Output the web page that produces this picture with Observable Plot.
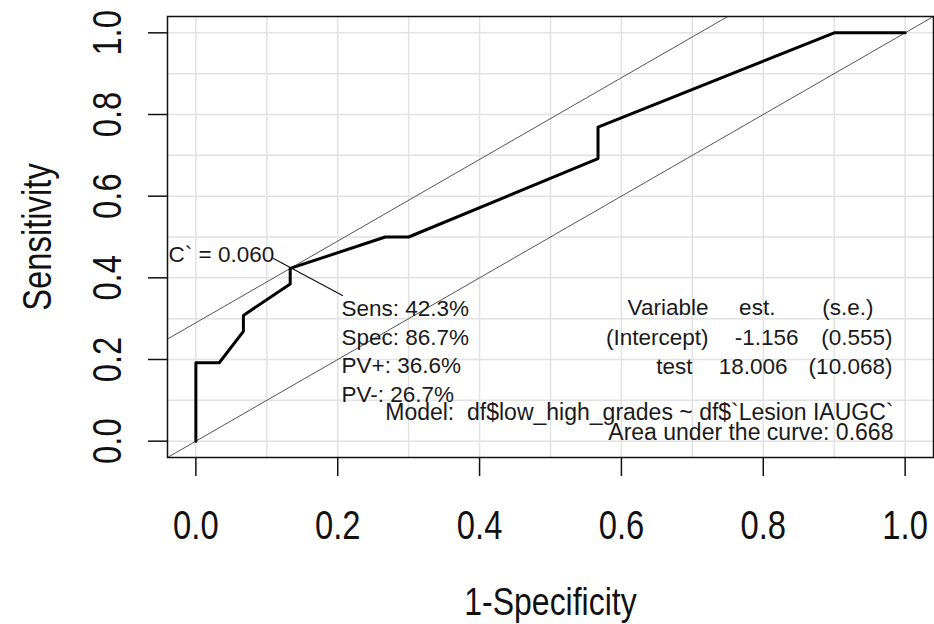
<!DOCTYPE html>
<html><head><meta charset="utf-8">
<script src="https://cdn.jsdelivr.net/npm/d3@7"></script>
<script src="https://cdn.jsdelivr.net/npm/@observablehq/plot@0.6"></script>
<style>
html,body{margin:0;padding:0;background:#fff;}
svg text{white-space:pre;}
</style></head><body><div id="chart"></div>
<script>
// ROC curve points: x = 1-Specificity, y = Sensitivity
const fpr = [0, 0, 0.033, 0.067, 0.067, 0.133, 0.133, 0.267, 0.300, 0.567, 0.567, 0.900, 1.000];
const tpr = [0, 0.192, 0.192, 0.269, 0.308, 0.385, 0.423, 0.500, 0.500, 0.692, 0.769, 1.000, 1.000];
const xTicks = [0, 0.2, 0.4, 0.6, 0.8, 1.0];
const xTickLabels = ["0.0", "0.2", "0.4", "0.6", "0.8", "1.0"];
const yTicks = [0, 0.2, 0.4, 0.6, 0.8, 1.0];
const yTickLabels = ["0.0", "0.2", "0.4", "0.6", "0.8", "1.0"];
const gridValues = [0, 0.1, 0.2, 0.3, 0.4, 0.5, 0.6, 0.7, 0.8, 0.9, 1.0];
const refIntercepts = [0, 0.290];            // y = x diagonal and line through the cut-off point
const cutoffLabel = "C` = 0.060";
const cutoffStats = ["Sens: 42.3%", "Spec: 86.7%", "PV+: 36.6%", "PV-: 26.7%"];
const tableHeader = ["Variable", "est.", "(s.e.)"];
const tableRows = [["(Intercept)", "-1.156", "(0.555)"], ["test", "18.006", "(10.068)"]];
const modelText = "Model:  df$low_high_grades ~ df$`Lesion IAUGC`";
const aucText = "Area under the curve: 0.668";
const xTitle = "1-Specificity";
const yTitle = "Sensitivity";

// ---- annotation layout (data coordinates) ----
const layout = {
  cutoffLabelAt: [-0.0386, 0.4377],
  leader: [[0.1094, 0.4475], [0.2067, 0.3568]],
  statsX: 0.2053, statsY: [0.3054, 0.2344, 0.1658, 0.0948],
  tableY: [0.3079, 0.2343, 0.1633],
  tableRight: [[0.7227, 0.8171, 0.9553], [0.7227, 0.8496, 0.9821], [0.7001, 0.8341, 0.9821]],
  modelAt: [0.9835, 0.0507], aucAt: [0.9835, 0.0017]
};

const roc = fpr.map((x, i) => ({x, y: tpr[i]}));
const dom = [-0.04, 1.04];
const refData = refIntercepts.flatMap((b, k) => dom.map(x => ({x, y: x + b, k})));
const leaderData = layout.leader.map(([x, y]) => ({x, y}));
const statsData = cutoffStats.map((t, i) => ({t, x: layout.statsX, y: layout.statsY[i]}));
const tableData = [tableHeader, ...tableRows].flatMap((row, r) =>
  row.map((t, c) => ({t, x: layout.tableRight[r][c], y: layout.tableY[r]})));
const footData = [
  {t: modelText, x: layout.modelAt[0], y: layout.modelAt[1]},
  {t: aucText, x: layout.aucAt[0], y: layout.aucAt[1]}
];

const annFont = {fontSize: 22.5, fill: "#1a1a1a", lineAnchor: "bottom"};

const chart = Plot.plot({
  width: 934, height: 624,
  marginLeft: 167, marginRight: 1, marginTop: 16, marginBottom: 167,
  x: {domain: dom},
  y: {domain: dom},
  style: {fontFamily: "'Liberation Sans', Arial, sans-serif", background: "#fff", color: "#111"},
  marks: [
    Plot.gridX(gridValues, {stroke: "#e2e2e2", strokeOpacity: 1, strokeWidth: 1.5}),
    Plot.gridY(gridValues, {stroke: "#e2e2e2", strokeOpacity: 1, strokeWidth: 1.5}),
    Plot.line(refData, {x: "x", y: "y", z: "k", stroke: "#555", strokeWidth: 1, clip: true}),
    Plot.line(roc, {x: "x", y: "y", stroke: "#000", strokeWidth: 3, strokeLinejoin: "round"}),
    Plot.line(leaderData, {x: "x", y: "y", stroke: "#111", strokeWidth: 1.2}),
    Plot.text([cutoffLabel], {x: () => layout.cutoffLabelAt[0], y: () => layout.cutoffLabelAt[1], text: d => d, textAnchor: "start", ...annFont}),
    Plot.text(statsData, {x: "x", y: "y", text: "t", textAnchor: "start", ...annFont}),
    Plot.text(tableData, {x: "x", y: "y", text: "t", textAnchor: "end", ...annFont}),
    Plot.text(footData, {x: "x", y: "y", text: "t", textAnchor: "end", ...annFont, fontSize: 23}),
    Plot.frame({stroke: "#111", strokeWidth: 1.5}),
    Plot.axisX(xTicks, {tickSize: 19, tickPadding: 33.6, fontSize: 40, strokeWidth: 1.5,
      tickFormat: d => xTickLabels[xTicks.indexOf(d)], label: null}),
    Plot.axisY(yTicks, {tickSize: 19, tickPadding: 28, tickRotate: -90, fontSize: 40, strokeWidth: 1.5,
      tickFormat: d => yTickLabels[yTicks.indexOf(d)], label: null}),
    Plot.text([xTitle], {frameAnchor: "bottom", dy: 157, textAnchor: "middle", lineAnchor: "bottom", fontSize: 39, fill: "#111"}),
    Plot.text([yTitle], {frameAnchor: "left", dx: -117, rotate: -90, textAnchor: "middle", lineAnchor: "bottom", fontSize: 40, fill: "#111"})
  ]
});

// emulate the condensed face used for the axis text
const condensed = new Set([...xTickLabels, ...yTickLabels, xTitle, yTitle]);
chart.querySelectorAll("text").forEach(t => {
  if (t.querySelector("tspan")) return;
  if (condensed.has(t.textContent)) {
    t.setAttribute("transform", (t.getAttribute("transform") || "") + " scale(0.82,1)");
  }
});

document.getElementById("chart").appendChild(chart);
</script>
</body></html>
